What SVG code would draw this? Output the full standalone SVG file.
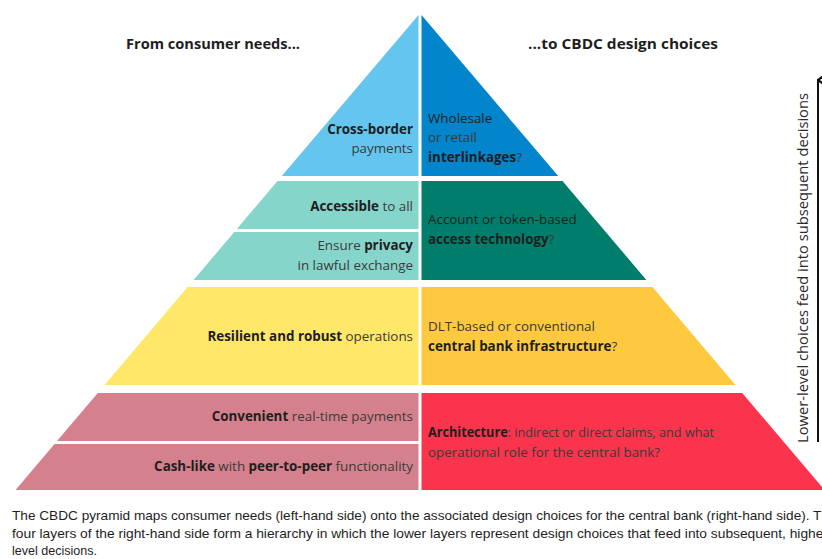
<svg xmlns="http://www.w3.org/2000/svg" width="822" height="559" viewBox="0 0 822 559">
  <style>
    .t { font-family: "Open Sans", "Noto Sans", "DejaVu Sans", sans-serif; font-size: 13.4px; fill: #3a3a3a; }
    .b { font-weight: bold; fill: #1e1e1e; }
    .r { text-anchor: end; }
    .head { font-family: "Open Sans", "Noto Sans", sans-serif; font-size: 14.5px; font-weight: bold; fill: #1e1e1e; }
    .cap { font-family: "Liberation Sans", "DejaVu Sans", sans-serif; font-size: 12.6px; fill: #1e1e1e; }
    .side { font-family: "Open Sans", "Noto Sans", sans-serif; font-size: 14px; fill: #2a2a2a; }
  </style>
  <defs>
    <marker id="chev" viewBox="0 0 16 12" refX="8" refY="1.5" markerWidth="16" markerHeight="12" markerUnits="userSpaceOnUse" orient="auto-start-reverse">
      <path d="M1,11 L8,1.5 L15,11" fill="none" stroke="#111" stroke-width="2.2"/>
    </marker>
  </defs>
  <rect width="822" height="559" fill="#ffffff"/>

  <!-- Headings -->
  <text class="head" x="126" y="49" textLength="174" lengthAdjust="spacingAndGlyphs">From consumer needs...</text>
  <text class="head" x="528" y="49" textLength="190" lengthAdjust="spacingAndGlyphs">...to CBDC design choices</text>

  <!-- Layer 1: cross-border / interlinkages -->
  <g id="need-crossborder">
    <polygon points="418.5,15 418.5,176 281.8,176" fill="#64c6ef"/>
    <text class="t r" x="413" y="134"><tspan class="b">Cross-border</tspan></text>
    <text class="t r" x="413" y="153">payments</text>
  </g>
  <g id="choice-interlinkages">
    <polygon points="421.5,15 558.2,176 421.5,176" fill="#0385cc"/>
    <text class="t" x="428" y="123" style="fill:#1e1e1e">Wholesale</text>
    <text class="t" x="428" y="142">or retail</text>
    <text class="t" x="428" y="162"><tspan class="b">interlinkages</tspan>?</text>
  </g>

  <!-- Layer 2: access -->
  <g id="need-accessible">
    <polygon points="277.5,181 418.5,181 418.5,229 236.8,229" fill="#86d5cb"/>
    <text class="t r" x="413" y="211"><tspan class="b">Accessible</tspan> to all</text>
  </g>
  <g id="need-privacy">
    <polygon points="234.3,232 418.5,232 418.5,280 193.6,280" fill="#86d5cb"/>
    <text class="t r" x="413" y="250">Ensure <tspan class="b">privacy</tspan></text>
    <text class="t r" x="413" y="270">in lawful exchange</text>
  </g>
  <g id="choice-access">
    <polygon points="421.5,181 562.5,181 646.4,280 421.5,280" fill="#007e6b"/>
    <text class="t" x="428" y="224" style="fill:#1e1e1e">Account or token-based</text>
    <text class="t" x="428" y="244"><tspan class="b">access technology</tspan>?</text>
  </g>

  <!-- Layer 3: infrastructure -->
  <g id="need-resilient">
    <polygon points="187.6,287 418.5,287 418.5,385 104.5,385" fill="#fee769"/>
    <text class="t r" x="413" y="341"><tspan class="b">Resilient and robust</tspan> operations</text>
  </g>
  <g id="choice-infrastructure">
    <polygon points="421.5,287 652.4,287 735.5,385 421.5,385" fill="#fec93e"/>
    <text class="t" x="428" y="331">DLT-based or conventional</text>
    <text class="t" x="428" y="351"><tspan class="b">central bank infrastructure</tspan>?</text>
  </g>

  <!-- Layer 4: architecture -->
  <g id="need-convenient">
    <polygon points="97.8,393 418.5,393 418.5,441 57,441" fill="#d5818d"/>
    <text class="t r" x="413" y="421"><tspan class="b">Convenient</tspan> real-time payments</text>
  </g>
  <g id="need-cashlike">
    <polygon points="54.5,444 418.5,444 418.5,490 15.5,490" fill="#d5818d"/>
    <text class="t r" x="413" y="471"><tspan class="b">Cash-like</tspan> with <tspan class="b">peer-to-peer</tspan> functionality</text>
  </g>
  <g id="choice-architecture">
    <polygon points="421.5,393 742.2,393 824.5,490 421.5,490" fill="#fa344c"/>
    <text class="t" x="428" y="437" textLength="286" lengthAdjust="spacingAndGlyphs"><tspan class="b">Architecture</tspan>: indirect or direct claims, and what</text>
    <text class="t" x="428" y="457">operational role for the central bank?</text>
  </g>

  <!-- Connectors -->
  <g id="connectors">
    <line x1="818" y1="442" x2="818" y2="80" stroke="#111" stroke-width="2" marker-end="url(#chev)"/>
  </g>
  <text class="side" transform="translate(808,443) rotate(-90)" textLength="350" lengthAdjust="spacingAndGlyphs">Lower-level choices feed into subsequent decisions</text>

  <!-- Caption -->
  <text class="cap" x="12" y="520" textLength="817" lengthAdjust="spacingAndGlyphs">The CBDC pyramid maps consumer needs (left-hand side) onto the associated design choices for the central bank (right-hand side). Th</text>
  <text class="cap" x="12" y="538" textLength="816" lengthAdjust="spacingAndGlyphs">four layers of the right-hand side form a hierarchy in which the lower layers represent design choices that feed into subsequent, higher</text>
  <text class="cap" x="12" y="555" textLength="85" lengthAdjust="spacingAndGlyphs">level decisions.</text>
</svg>
